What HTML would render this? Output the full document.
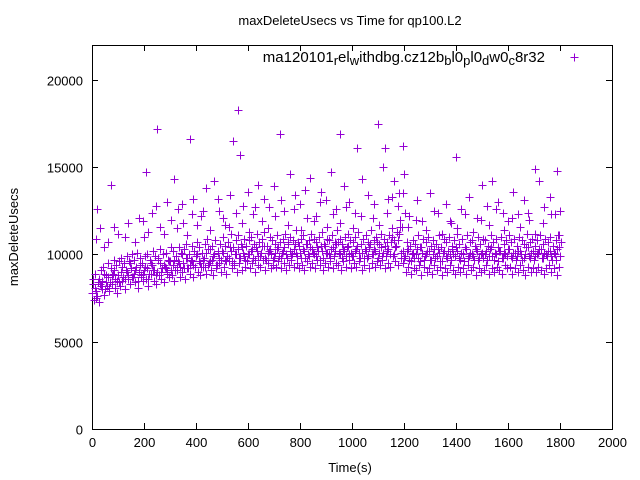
<!DOCTYPE html>
<html><head><meta charset="utf-8"><style>
html,body{margin:0;padding:0;background:#fff;}
svg{display:block;font-family:"Liberation Sans",sans-serif;}
</style></head><body>
<svg id="chart" width="640" height="480" viewBox="0 0 640 480">
<rect x="0" y="0" width="640" height="480" fill="#fff"/>
<text x="350" y="25" text-anchor="middle" font-size="13" fill="#000">maxDeleteUsecs vs Time for qp100.L2</text>
<text x="350" y="472" text-anchor="middle" font-size="13">Time(s)</text>
<text transform="translate(18,237) rotate(-90)" text-anchor="middle" font-size="13">maxDeleteUsecs</text>
<g id="axes"></g>
<g id="points"></g>
<g>
<text x="545" y="62" text-anchor="end" font-size="15">ma120101<tspan font-size="13" dy="3">r</tspan><tspan dy="-3">el</tspan><tspan font-size="13" dy="3">w</tspan><tspan dy="-3">ithdbg.cz12b</tspan><tspan font-size="13" dy="3">b</tspan><tspan dy="-3">l0</tspan><tspan font-size="13" dy="3">p</tspan><tspan dy="-3">l0</tspan><tspan font-size="13" dy="3">d</tspan><tspan dy="-3">w0</tspan><tspan font-size="13" dy="3">c</tspan><tspan dy="-3">8r32</tspan></text>
<path d="M570.5,57.5h8M574.5,53.5v8" stroke="#9400d3" stroke-width="1"/>
</g>
</svg>
<script>
const xTicks=[0,200,400,600,800,1000,1200,1400,1600,1800,2000];
const yTicks=[0,5000,10000,15000,20000];
const bandA=[7800,8100,7600,8300,8500,8000,8700,8400,8900,8600,8800,
9000,8700,9100,8800,9200,8900,9300,9000,8700,9100,
9200,8900,9400,9100,9000,9500,9200,9300,8900,9600,
9400,9100,9600,9300,9500,9800,9200,9700,9400,9900,
9600,9300,9800,10100,9500,9700,10000,9400,9800,10200,
9700,9900,10400,9600,10000,10300,9800,10100,9700,10000,
10200,9800,10400,9900,10100,10500,9700,10200,10000,9800,
10300,9900,10100,10400,9800,10200,10000,10600,9900,10100,
10300,9800,10000,10400,10100,9900,10200,10500,9800,10100,
10000,10300,9900,10600,10100,9800,10200,10400,10000,9900,
10200,10500,9800,10100,10300,9900,10600,10000,10200,9800,
10400,10100,9900,10300,10700,10000,10500,11200,10100,9800,
10200,9700,10000,9800,10300,9600,10100,9900,10200,9700,
10000,9800,10300,9600,10100,9900,10200,9700,10000,10400,
9800,10100,9600,10300,9900,10000,9700,10200,9800,10100,
10000,9700,10300,9900,10100,9600,10200,9800,10000,10300,
9900,10100,9700,10200,10000,9800,10400,9900,10100,9700,
10000,10300,9800,10100,9900,10200,9700,10000,10300,9900];
const bandB=[8300,7500,8600,8200,8900,8400,8100,8800,9100,8500,
8400,9300,8600,9000,9500,8700,9100,8500,9400,8900,
9300,8600,9500,9100,8800,9700,9000,9400,9200,9600,
9100,9700,9300,9500,10000,9200,9800,9400,9600,9300,
10000,9500,9700,9300,10300,9600,9900,9400,10100,9700,
10100,9600,9800,10200,9500,10000,9800,10400,9900,9600,
10000,10300,9700,10200,9900,10500,9800,10100,10300,9700,
10100,10400,9800,10200,10000,10700,9900,10300,10100,10500,
9800,10200,10600,9900,10300,10000,10400,9700,10200,10500,
10100,9800,10400,10200,10700,10000,10300,9900,10500,10100,
9900,10300,10100,10600,9800,10200,10400,10000,10300,10700,
10100,9900,10500,10200,10000,11000,10400,10800,11600,10200,
9900,10300,9600,10100,10000,9800,10400,9700,10000,10200,
9700,10300,9900,10100,9600,10200,9800,10000,10300,9900,
10200,9700,10000,10400,9800,10100,9900,10300,9700,10000,
9800,10200,9900,10400,9700,10000,10200,9800,10100,9900,
10300,9800,10100,9900,10200,9700,10000,10400,9800,10200,
9900,10100,10300,9800,10000,10200,9900,10100,9700,10400];
const bandC=[8600,8900,8400,9100,9300,8800,9500,9200,9700,9400,9600,
9800,9500,9900,9600,10000,9700,10100,9800,9500,9900,
10000,9700,10200,9900,9800,10300,10000,10100,9700,10400,
10200,9900,10400,10100,10300,10600,10000,10500,10200,10700,
10400,10100,10600,10900,10300,10500,10800,10200,10600,11000,
10500,10700,11200,10400,10800,11100,10600,10900,10500,10800,
11000,10600,11200,10700,10900,11300,10500,11000,10800,10600,
11100,10700,10900,11200,10600,11000,10800,11400,10700,10900,
11100,10600,10800,11200,10900,10700,11000,11300,10600,10900,
10800,11100,10700,11400,10900,10600,11000,11200,10800,10700,
11000,11300,10600,10900,11100,10700,11400,10800,11000,10600,
11200,10900,10700,11100,11500,10800,11300,12000,11600,12400,
10700,10500,10800,10600,11100,10400,10900,10700,11000,10500,
10800,10600,11100,10400,10900,10700,11000,10500,10800,11200,
10600,10900,10400,11100,10700,10800,10500,11000,10600,10900,
10800,10500,11100,10700,10900,10400,11000,10600,10800,11100,
10700,10900,10500,11000,10800,10600,11200,10700,10900,10500,
10800,11100,10600,10900,10700,11000,10500,10800,11100,10700];
const bandD=[7400,7900,7300,8000,7700,8200,7900,8300,8100,7800,
8200,8500,8000,8600,8300,8700,8400,8100,8800,8500,
8600,8200,8900,8500,8300,8800,8600,8400,9000,8700,
8800,8500,9100,8700,9000,8600,9200,8900,8700,9300,
9000,8800,9300,8900,9400,9100,8800,9200,9500,9000,
9300,8900,9600,9200,9400,9000,9500,9100,9300,9600,
9200,9500,9000,9400,9300,9700,9100,9500,9200,9400,
9300,9600,9200,9500,9100,9400,9700,9300,9500,9200,
9400,9100,9600,9300,9500,9200,9700,9400,9100,9500,
9300,9600,9200,9500,9400,9100,9600,9300,9700,9200,
9500,9300,9600,9100,9400,9800,9200,9500,9300,9600,
9400,9700,9200,9500,9300,9900,9600,9400,9800,9500,
9000,9300,8900,9200,9100,9400,8800,9300,9000,9200,
8900,9400,9100,9300,8800,9200,9000,9400,9100,8900,
9300,9000,9200,8900,9400,9100,9300,8800,9200,9000,
9100,9400,8900,9200,9000,9300,9100,8900,9400,9200,
9300,8900,9200,9000,9400,9100,8800,9300,9000,9200,
9000,9300,9100,8900,9200,9400,9000,9200,8800,9300];
const outT=[250,560,1100,377,955,723,542,1020,570,1400,1127,1196,1704,315,208,73,1790,
20,30,60,100,140,180,200,230,260,290,330,350,390,420,440,470,490,510,530,580,600,620,640,660,680,700,740,760,780,800,820,840,860,880,900,920,940,970,990,1010,1040,1060,1080,1120,1140,1160,1180,1200,1220,1250,1270,1300,1330,1360,1380,1420,1450,1480,1500,1520,1540,1560,1580,1600,1620,1640,1660,1680,1720,1740,1760,1780,1800];
const outV=[17200,18300,17500,16600,16900,16900,16500,16100,15700,15600,16100,16200,14900,14300,14700,14000,14800,
12600,11500,10700,11200,11800,12100,11000,12400,11600,13000,12600,11800,13200,12200,13800,14200,12500,11700,13400,12800,13600,12300,14000,13200,12700,13900,12500,14600,13400,12900,13700,14400,12200,13600,13100,14700,12600,13900,13000,12400,14300,13400,12100,15000,13200,14200,13500,14600,12200,13100,11900,13500,12400,12900,11800,12600,13300,12100,14000,12800,14200,13000,12400,11900,13600,12300,13100,12000,14200,12700,13300,12300,12500];
const midT=[15,45,85,125,165,195,215,245,275,305,325,345,365,385,405,425,455,485,505,525,555,575,605,625,655,675,705,725,755,775,805,825,855,875,905,925,955,975,1005,1035,1055,1085,1105,1135,1155,1175,1195,1215,1245,1285,1315,1345,1375,1405,1435,1465,1495,1525,1555,1585,1615,1645,1675,1705,1735,1765,1795];
const midV=[10900,10400,11600,11000,10700,11900,11300,12800,11200,12000,11500,12900,11100,12300,11700,12500,11400,13200,12100,11600,12400,11800,11300,12700,11900,11500,12200,13100,11700,12600,11400,12100,11900,13000,11600,12300,11800,12700,11500,12200,11100,12900,11700,12400,13300,12800,13500,11600,12000,11400,12500,11200,11900,11500,12300,11300,12000,11700,12600,11400,12100,11600,12400,11200,11800,12300,11100];

const X0=92,X1=612,Y0=429,Y1=45;
function xs(t){return X0+(t/2000)*(X1-X0);}
function ys(v){return Y0-(v/22000)*(Y0-Y1);}
const NS="http://www.w3.org/2000/svg";
const axes=document.getElementById('axes');
const pts=document.getElementById('points');
function mk(tag,attrs,parent){const e=document.createElementNS(NS,tag);for(const k in attrs)e.setAttribute(k,attrs[k]);parent.appendChild(e);return e;}
const frame=mk('rect',{x:X0+0.5,y:Y1+0.5,width:X1-X0,height:Y0-Y1,fill:'none',stroke:'#000','stroke-width':1},axes);


xTicks.forEach(t=>{
  const x=Math.round(xs(t))+0.5;
  const tk=mk('path',{d:`M${x},${Y0}v-6M${x},${Y1}v6`,stroke:'#000','stroke-width':1},axes);
  
  
  const lb=mk('text',{x:x,y:Y0+18,'text-anchor':'middle','font-size':13},axes);
  lb.textContent=t;
  
  
});
yTicks.forEach(v=>{
  const y=Math.round(ys(v))+0.5;
  const tk=mk('path',{d:`M${X0},${y}h6M${X1},${y}h-6`,stroke:'#000','stroke-width':1},axes);
  
  
  const lb=mk('text',{x:X0-9,y:y+5,'text-anchor':'end','font-size':13},axes);
  lb.textContent=v;
  
  
});
let d='';
function plus(t,v){const x=Math.round(xs(t))+0.5,y=Math.round(ys(v))+0.5;d+=`M${x-4},${y}h8M${x},${y-4}v8`;}
bandA.forEach((v,i)=>plus(i*10,v));
bandB.forEach((v,i)=>plus(i*10+5,v));
bandC.forEach((v,i)=>plus(i*10+3,v));
bandD.forEach((v,i)=>plus(i*10+7,v));
outT.forEach((t,i)=>plus(t,outV[i]));
midT.forEach((t,i)=>plus(t,midV[i]));
const p=mk('path',{d:d,stroke:'#9400d3','stroke-width':1,fill:'none'},pts);


</script>
</body></html>
